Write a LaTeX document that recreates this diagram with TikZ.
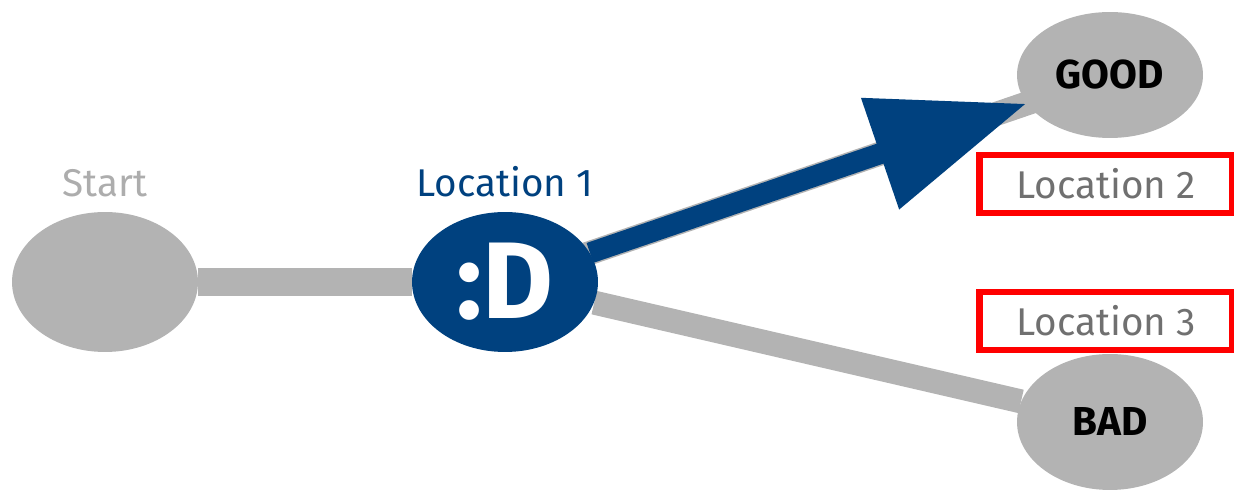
\documentclass[tikz,border=0pt]{standalone}
\usepackage{fontspec}
\setmainfont{Fira Sans}
\usetikzlibrary{shapes.geometric, arrows.meta, positioning, backgrounds}

\definecolor{stategray}{HTML}{B3B3B3}
\definecolor{pathblue}{HTML}{00417F}
\definecolor{startgray}{HTML}{ADADAD}
\definecolor{locgray}{HTML}{707070}

\begin{document}
\begin{tikzpicture}[
x=0.02cm, y=-0.02cm,
state/.style={ellipse, fill=stategray, inner sep=0pt,
minimum width=3.72cm, minimum height=2.8cm},
state-current/.style={state, fill=pathblue, text=white,
font=\bfseries\fontsize{62}{62}\selectfont},
state-end/.style={state, font=\bfseries\fontsize{23}{23}\selectfont},
caption/.style={inner sep=0pt, node distance=0.28cm, font=\fontsize{22}{22}\selectfont},
marked/.style={draw=red, line width=0.13cm, text=locgray, font=\fontsize{22}{22}\selectfont,
minimum width=5.06cm, minimum height=1.16cm},
line/.style={draw=stategray, line width=0.56cm},
arrow/.style={draw=pathblue, line width=0.42cm, -{Triangle[length=3.1cm, width=2.24cm]}}
]
\useasboundingbox (0,0) rectangle (1234,492);

\node [state] (start) at (105,282) {};
\node [state-current] (loc1) at (505,282) {:D};
\node [state-end, minimum height=2.52cm] (good) at (1110,75) {GOOD};
\node [state-end, minimum height=2.72cm] (bad) at (1110,422) {BAD};

\node [caption, text=startgray, above=of start] (start-label) {Start};
\node [caption, text=pathblue, above=of loc1] (loc1-label) {Location 1};

\node [marked] (loc2) at (1106,184) {Location 2};
\node [marked] (loc3) at (1106,321) {Location 3};

\begin{scope}[on background layer]
\path [line] (start) -- (loc1);
\path [line, line width=0.48cm] (loc1) -- (bad);
\path [line, line width=0.48cm] (loc1.center) -- (good.center);
\end{scope}

\path [arrow] (loc1) -- (good);

\end{tikzpicture}
\end{document}
